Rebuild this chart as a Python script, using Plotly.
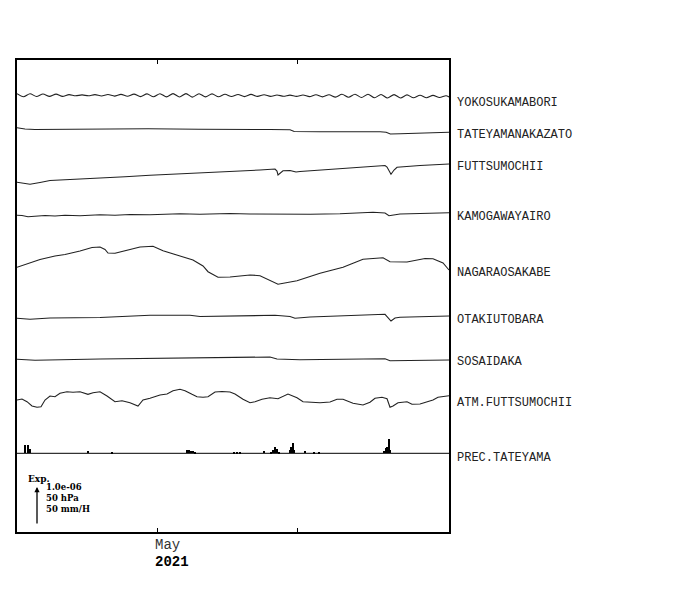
import plotly.graph_objects as go

# ---------------- data (time in days since 2021-04-01, values in display units) ----------------
names = ["YOKOSUKAMABORI", "TATEYAMANAKAZATO", "FUTTSUMOCHII", "KAMOGAWAYAIRO",
         "NAGARAOSAKABE", "OTAKIUTOBARA", "SOSAIDAKA", "ATM.FUTTSUMOCHII", "PREC.TATEYAMA"]

yoko_t = [0, 1.39, 2.79, 4.18, 5.57, 6.96, 8.36, 9.75, 11.14, 12.54, 13.93, 15.32, 16.71, 18.11,
          19.5, 20.89, 22.29, 23.68, 25.07, 26.46, 27.86, 29.25, 30.64, 32.04, 33.43, 34.82, 36.21,
          37.61, 39.0, 40.39, 41.79, 43.18, 44.57, 45.96, 47.36, 48.75, 50.14, 51.54, 52.93, 54.32,
          55.71, 57.11, 58.5, 59.89, 61.29, 62.68, 64.07, 65.46, 66.86, 68.25, 69.64, 71.04, 72.43,
          73.82, 75.21, 76.61, 78.0, 79.39, 80.79, 82.18, 83.57, 84.96, 86.36, 87.75, 89.14, 90.54,
          91.93, 92.57]
yoko_v = [1.8, -1.2, 1.8, -1.0, 1.5, -0.9, 1.4, -0.9, 0.9, -0.3, 0.6, -0.3, 0.9, -0.5, 1.0, -0.6,
          1.1, -0.8, 1.4, -1.1, 1.6, -1.3, 1.8, -1.4, 1.9, -1.5, 1.9, -1.6, 1.8, -1.4, 1.6, -1.3,
          1.2, -1.0, 1.0, -1.1, 1.1, -0.9, 0.8, -0.9, 0.5, -0.8, 0.4, -0.9, 0.5, -1.1, 0.7, -1.4,
          0.8, -1.6, 1.2, -1.8, 1.3, -2.0, 1.2, -2.3, 1.0, -2.5, 0.9, -2.5, 0.6, -2.3, 0.3, -2.2,
          0.1, -2.0, -0.3, -1.5]

tate_t = [0, 1.71, 3.86, 9.21, 17.1, 28.1, 39.0, 47.8, 54.2, 58.5, 59.4, 64.9, 71.4, 77.8, 79.1,
          80.0, 82.1, 86.4, 92.57]
tate_v = [0, -1.3, -1.8, -1.6, -1.3, -1.1, -1.6, -1.3, -1.8, -2.1, -3.8, -4.0, -3.8, -4.0, -4.5,
          -6.3, -6.0, -5.3, -4.6]

futt_t = [0, 1.5, 2.79, 4.93, 7.07, 12.43, 17.79, 23.14, 28.5, 37.07, 45.64, 52.07, 55.29, 55.71,
          55.93, 56.36, 57.0, 58.5, 59.79, 60.64, 67.07, 73.5, 78.86, 79.29, 80.14, 80.79, 81.43,
          86.36, 92.57]
futt_v = [0, -0.7, -2.0, -0.2, 1.8, 3.0, 4.0, 5.5, 7.0, 8.8, 10.5, 12.3, 13.3, 11.3, 7.3, 9.3,
          11.5, 11.8, 10.3, 10.8, 12.8, 14.8, 16.8, 15.3, 8.0, 12.3, 15.0, 16.8, 18.3]

kamo_t = [0, 1.07, 2.36, 3.86, 6.0, 8.14, 10.29, 13.5, 17.79, 21.0, 24.21, 28.5, 31.71, 34.93,
          39.21, 45.64, 49.93, 54.21, 58.5, 62.79, 69.21, 73.5, 76.29, 78.86, 79.71, 80.36, 82.07,
          86.36, 89.57, 92.57]
kamo_v = [0, -0.2, -1.4, -0.9, -0.2, -0.7, 0, -0.5, 0.5, 0, 0.8, 0.6, 1.3, 1.5, 1.1, 1.8, 1.3,
          1.0, 0.6, 1.0, 1.6, 2.1, 3.0, 2.3, -0.4, 0.1, 1.3, 1.8, 2.5, 2.6]

naga_t = [0, 2.79, 4.93, 8.14, 10.29, 13.5, 16.07, 17.79, 18.86, 19.5, 21.0, 22.07, 26.36, 29.14,
          31.29, 34.93, 37.71, 39.86, 40.93, 43.07, 45.64, 49.93, 52.07, 55.93, 60.0, 64.93, 69.86,
          74.14, 78.43, 79.93, 83.57, 87.43, 89.14, 91.29, 92.57]
naga_v = [0, 4.0, 7.8, 11.3, 12.8, 16.3, 19.8, 20.3, 17.8, 14.3, 14.0, 15.3, 20.3, 21.0, 16.6,
          11.3, 7.3, 1.3, -4.4, -10.0, -9.7, -7.7, -8.4, -17.0, -13.4, -6.0, 0, 8.0, 9.6, 5.6, 5.3,
          8.8, 8.6, 4.3, -2.7]

otak_t = [0, 2.79, 7.07, 17.79, 28.5, 37.07, 39.21, 45.64, 55.29, 58.5, 59.57, 62.79, 71.36,
          78.86, 80.14, 81.0, 82.07, 92.57]
otak_v = [0, -1.0, 0.3, 0.8, 3.0, 3.0, 1.8, 2.3, 3.0, 1.8, 0, 1.3, 2.8, 4.0, -2.7, 0.3, 1.0, 2.3]

sosa_t = [0, 3.86, 17.79, 28.5, 45.64, 54.21, 55.71, 60.64, 78.86, 79.93, 92.57]
sosa_v = [0, -1.0, 0.3, 1.0, 1.8, 2.3, 0.3, -0.4, 0.6, -1.4, -0.7]

atm_t = [0, 1.07, 2.14, 3.21, 4.29, 5.14, 6.0, 7.07, 8.14, 9.21, 10.71, 12.0, 13.5, 15.21, 16.29,
         17.79, 19.29, 21.0, 22.5, 24.21, 25.93, 27.0, 28.5, 30.64, 32.14, 33.43, 34.93, 36.0, 37.5,
         38.57, 39.86, 40.93, 42.43, 43.93, 45.64, 46.71, 48.43, 49.93, 51.0, 52.5, 54.21, 55.93,
         58.07, 60.0, 61.29, 62.79, 64.93, 67.07, 68.57, 69.86, 70.93, 72.0, 74.14, 75.64, 76.71,
         78.21, 79.29, 79.93, 80.57, 81.64, 83.57, 84.64, 86.36, 87.86, 89.14, 90.21, 92.57]
atm_v = [0, 1.0, -1.7, -6.0, -7.3, -6.7, 0, 4.0, 3.3, 6.7, 8.3, 7.7, 8.3, 5.7, 7.3, 8.3, 4.0,
         -1.7, -0.7, -2.7, -6.0, 0, 1.7, 5.0, 6.0, 9.3, 10.7, 9.3, 5.7, 3.3, 2.7, 3.3, 8.0, 8.5,
         8.0, 6.0, 0.7, -2.7, -1.7, 0.7, 2.3, 1.3, 6.0, 2.3, -1.7, -2.3, -2.7, -2.0, 0.7, 0.7,
         -1.0, -3.3, -5.0, -2.3, 1.7, 2.7, 1.3, -7.3, -6.0, -2.7, -1.7, -4.3, -4.0, -1.7, 0, 2.7,
         4.3]

prec_t = [1.82, 2.46, 2.79, 15.36, 20.36, 36.43, 36.86, 37.29, 37.71, 38.14, 46.5, 47.14, 47.79,
          52.93, 54.43, 54.96, 55.39, 55.82, 56.14, 58.5, 58.82, 59.14, 59.36, 61.71, 63.64, 64.71,
          78.64, 79.07, 79.43, 79.71, 80.04]
prec_v = [8, 8, 4, 2.3, 1, 3, 3, 2.5, 2.5, 1.5, 0.7, 0.7, 0.7, 2, 1, 3, 6, 4, 1.5, 3, 6, 10, 3,
          2, 1.5, 1, 2, 5, 6, 14.5, 3]

tick_days = [30, 60]
month_label = "May"
year_label = "2021"
scale_lines = ["1.0e-06", "50 hPa", "50 mm/H"]

# ---------------- layout parameters ----------------
x_range = [0, 92.57]
y_range = [0, 472]
offsets = [436.5, 404.3, 349.7, 316.7, 264.7, 213.7, 172.7, 132.0, 78.7]
label_y = [429.3, 397.0, 365.3, 315.3, 259.0, 212.0, 170.0, 129.0, 74.0]

series = [(yoko_t, yoko_v), (tate_t, tate_v), (futt_t, futt_v), (kamo_t, kamo_v),
          (naga_t, naga_v), (otak_t, otak_v), (sosa_t, sosa_v), (atm_t, atm_v)]

fig = go.Figure()
for i, ((t, v), off) in enumerate(zip(series, offsets[:8])):
    shape = "spline" if i == 0 else "linear"
    fig.add_trace(go.Scatter(x=t, y=[off + a for a in v], mode="lines",
                             line=dict(color="#222222", width=1.1, shape=shape, smoothing=0.8),
                             hoverinfo="skip", showlegend=False))

# precipitation bars
fig.add_trace(go.Bar(x=prec_t, y=prec_v, base=offsets[8], width=0.33,
                     marker=dict(color="black", line=dict(width=0)), showlegend=False))
# precipitation baseline
fig.add_trace(go.Scatter(x=x_range, y=[offsets[8], offsets[8]], mode="lines",
                         line=dict(color="black", width=1), showlegend=False))

ann = []
for name, ly in zip(names, label_y):
    ann.append(dict(x=1.014, xref="paper", y=ly, yref="y", text=name, showarrow=False,
                    xanchor="left", yanchor="middle",
                    font=dict(family="Liberation Mono", size=12, color="#222222")))

# scale bar
ann.append(dict(x=0.0463, y=0.0953, xref="paper", yref="paper", ax=0, ay=38,
                axref="pixel", ayref="pixel", text="", showarrow=True, arrowhead=2,
                arrowsize=0.8, arrowwidth=1.3, arrowcolor="black"))
ann.append(dict(x=0.0231, y=0.1123, xref="paper", yref="paper", text="<b>Exp.</b>",
                showarrow=False, xanchor="left", yanchor="middle", borderpad=0,
                font=dict(family="DejaVu Serif", size=9, color="black")))
for s, yy in zip(scale_lines, [0.0943, 0.0710, 0.0477]):
    ann.append(dict(x=0.0648, y=yy, xref="paper", yref="paper", text="<b>" + s + "</b>",
                    showarrow=False, xanchor="left", yanchor="middle", borderpad=0,
                    font=dict(family="DejaVu Serif", size=8.5, color="black")))

# month / year labels
ann.append(dict(x=tick_days[0], xref="x", y=-0.0275, yref="paper", text=month_label,
                showarrow=False, xanchor="left", yanchor="middle", xshift=-4,
                font=dict(family="Liberation Mono", size=14, color="#333333")))
ann.append(dict(x=tick_days[0], xref="x", y=-0.0629, yref="paper", text="<b>" + year_label + "</b>",
                showarrow=False, xanchor="left", yanchor="middle", xshift=-4,
                font=dict(family="Liberation Mono", size=14, color="black")))

fig.update_layout(
    width=692, height=582,
    margin=dict(l=9, r=251, t=52, b=58),
    paper_bgcolor="white", plot_bgcolor="white",
    showlegend=False, bargap=0,
    annotations=ann,
    xaxis=dict(range=x_range, showgrid=False, zeroline=False, showline=True, linecolor="black",
               linewidth=2, mirror="ticks", ticks="inside", ticklen=4, tickwidth=1.2,
               tickcolor="black", tickvals=tick_days, showticklabels=False, fixedrange=True),
    yaxis=dict(range=y_range, showgrid=False, zeroline=False, showline=True, linecolor="black",
               linewidth=2, mirror=True, ticks="", showticklabels=False, fixedrange=True),
)

fig.write_html("out.html")
